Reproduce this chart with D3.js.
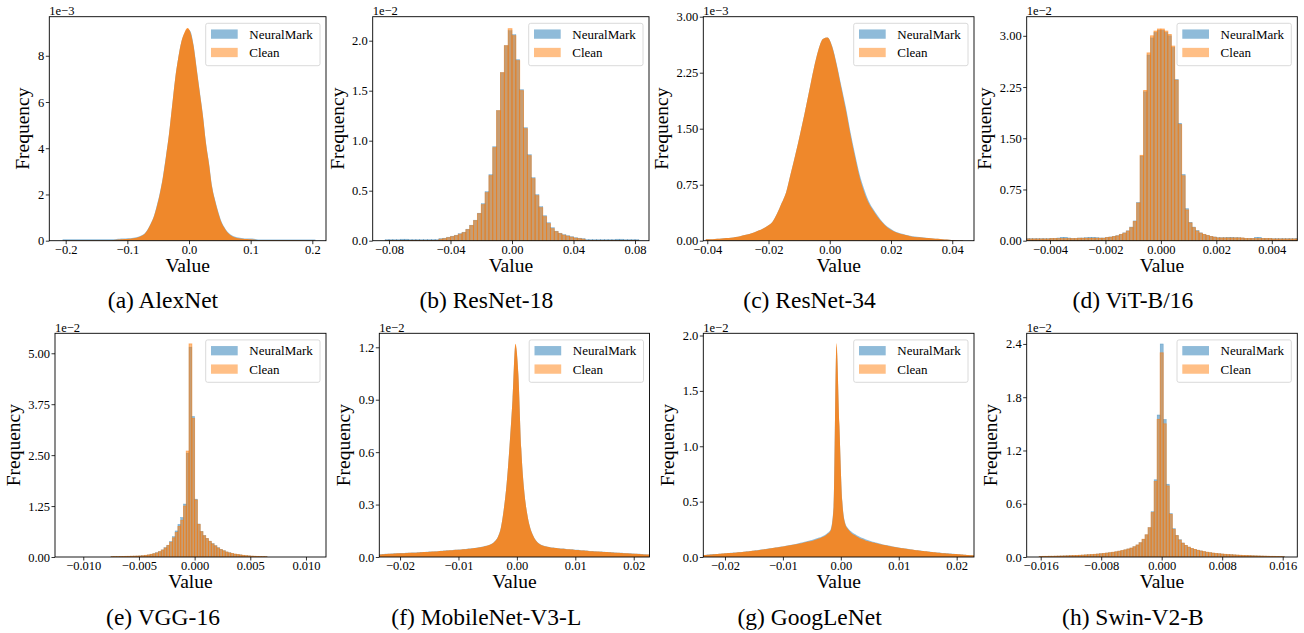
<!DOCTYPE html>
<html lang="en">
<head>
<meta charset="UTF-8">
<title>Weight distributions: NeuralMark vs Clean</title>
<script src="https://d3js.org/d3.v7.min.js"></script>
<style>
  body { margin: 0; background: #fff; }
  text { font-family: "Liberation Serif", "Times New Roman", serif; fill: #000; }
</style>
</head>
<body>
<div id="chart"></div>
<script>
// ---- data ----
const panelNames = ['(a) AlexNet', '(b) ResNet-18', '(c) ResNet-34', '(d) ViT-B/16',
                    '(e) VGG-16', '(f) MobileNet-V3-L', '(g) GoogLeNet', '(h) Swin-V2-B']
const seriesNames = ['NeuralMark', 'Clean']
const xDomains = [[-0.2266, 0.2222], [-0.0906, 0.0891], [-0.0413, 0.0471], [-0.00484, 0.00492],
                  [-0.01254, 0.0118], [-0.02355, 0.0227], [-0.02374, 0.02299], [-0.01785, 0.01793]]
const yMax = [9.69, 2.24, 3.0, 3.28, 5.49, 1.28, 2.02, 2.52]
const yExponent = ['1e\u22123', '1e\u22122', '1e\u22123', '1e\u22122', '1e\u22122', '1e\u22122', '1e\u22122', '1e\u22122']
const xTicks = [[-0.2, -0.1, 0, 0.1, 0.2], [-0.08, -0.04, 0, 0.04, 0.08], [-0.04, -0.02, 0, 0.02, 0.04],
                [-0.004, -0.002, 0, 0.002, 0.004], [-0.01, -0.005, 0, 0.005, 0.01], [-0.02, -0.01, 0, 0.01, 0.02],
                [-0.02, -0.01, 0, 0.01, 0.02], [-0.016, -0.008, 0, 0.008, 0.016]]
const xDecimals = [1, 2, 2, 3, 3, 2, 2, 3]
const yTicks = [[0, 2, 4, 6, 8], [0, 0.5, 1, 1.5, 2], [0, 0.75, 1.5, 2.25, 3], [0, 0.75, 1.5, 2.25, 3],
                [0, 1.25, 2.5, 3.75, 5], [0, 0.3, 0.6, 0.9, 1.2], [0, 0.5, 1, 1.5, 2], [0, 0.6, 1.2, 1.8, 2.4]]
const yDecimals = [0, 1, 2, 2, 2, 1, 1, 1]
const binStart = [-0.205, -0.0825, -0.0405, -0.005, -0.0075, -0.024, -0.024, -0.0162]
const binWidth = [0.005, 0.0025, 0.0015, 0.000125, 0.00025, 0.0005, 0.0005, 0.0004]

// frequencies, in units of the panel exponent
const neuralA = [0.06,0.06,0.06,0.06,0.06,0.06,0.06,0.06,0.06,0.06,0.06,0.06,0.06,0.06,0.06,0.06,0.06,
  0.07,0.08,0.09,0.1,0.11,0.12,0.14,0.17,0.22,0.3,0.47,0.72,1.02,1.5,
  2.05,2.75,3.65,4.6,5.8,7.0,7.9,8.6,8.95,9.15,9.05,8.45,7.45,6.45,5.45,4.25,3.35,2.35,1.75,1.25,
  0.84,0.58,0.39,0.27,0.19,0.15,0.13,0.11,0.1,0.1,0.1,0.07,
  0.05,0.05,0.05,0.05,0.05,0.05,0.05,0.05,0.05,0.05,0.05,0.05,0.05,0.05,0.05,0.05,0.05,0.05,0.05]
const cleanA = [0.02,0.02,0.02,0.02,0.02,0.02,0.02,0.02,0.02,0.02,0.02,0.02,0.02,0.02,0.02,0.02,0.03,
  0.04,0.05,0.06,0.07,0.08,0.1,0.12,0.15,0.2,0.28,0.45,0.7,1.0,1.45,
  2.0,2.7,3.6,4.6,5.8,7.0,7.9,8.6,9.0,9.2,9.0,8.4,7.4,6.4,5.4,4.2,3.3,2.3,1.7,1.2,
  0.8,0.55,0.36,0.24,0.16,0.12,0.1,0.08,0.07,0.06,0.05,0.04,
  0.03,0.03,0.03,0.03,0.03,0.03,0.03,0.03,0.025,0.025,0.025,0.025,0.025,0.025,0.02,0.02,0.02,0.02,0.02]

const neuralB = [0.01,0.01,0.01,0.01,0.015,0.015,0.01,0.01,0.01,0.01,0.01,0.01,0.01,0.01,
  0.02,0.025,0.035,0.045,0.055,0.07,0.085,0.115,0.155,0.205,0.275,0.37,0.49,0.66,0.94,1.3,1.68,1.95,2.1,
  2.06,1.81,1.51,1.13,0.86,0.63,0.46,0.34,0.25,0.18,0.13,0.095,0.075,0.06,0.05,0.04,0.03,0.025,0.02,
  0.01,0.01,0.01,0.01,0.01,0.01,0.01,0.01,0.015,0.015,0.01,0.01,0.01,0.01]
const cleanB = [0.003,0.003,0.003,0.003,0.003,0.003,0.003,0.003,0.003,0.003,0.003,0.003,0.003,0.003,
  0.015,0.02,0.03,0.04,0.05,0.065,0.08,0.11,0.15,0.2,0.27,0.36,0.48,0.65,0.93,1.3,1.68,1.95,2.12,
  2.05,1.8,1.5,1.12,0.85,0.62,0.45,0.33,0.24,0.17,0.12,0.09,0.07,0.055,0.045,0.035,0.025,0.02,0.015,
  0.003,0.003,0.003,0.003,0.003,0.003,0.003,0.003,0.003,0.003,0.003,0.003,0.003,0.003]

const neuralC = [0.02,0.02,0.025,0.03,0.035,0.04,0.05,0.06,0.075,0.09,
  0.11,0.135,0.165,0.2,0.25,0.36,0.5,0.65,0.9,1.15,
  1.42,1.7,2.0,2.3,2.55,2.7,2.72,2.61,2.37,2.08,
  1.79,1.46,1.16,0.89,0.69,0.53,0.42,0.33,0.25,0.19,
  0.15,0.115,0.095,0.08,0.065,0.055,0.048,0.042,0.036,0.031,
  0.026,0.021,0.016,0.011,0.009,0.006]
const cleanC = [0.02,0.02,0.025,0.03,0.035,0.04,0.05,0.06,0.075,0.09,
  0.11,0.135,0.165,0.2,0.25,0.36,0.5,0.65,0.9,1.15,
  1.42,1.7,2.0,2.3,2.55,2.7,2.72,2.6,2.35,2.05,
  1.75,1.42,1.12,0.85,0.65,0.5,0.4,0.31,0.24,0.18,
  0.14,0.11,0.09,0.075,0.06,0.05,0.045,0.04,0.035,0.03,
  0.025,0.02,0.015,0.01,0.008,0.005]

const neuralD = [0.03,0.03,0.03,0.03,0.03,0.03,0.03,0.03,
  0.035,0.035,0.04,0.05,0.05,0.04,0.035,0.035,
  0.04,0.04,0.045,0.05,0.05,0.045,0.04,0.04,
  0.05,0.055,0.065,0.075,0.095,0.115,0.145,0.2,0.29,0.56,1.24,2.18,2.72,2.97,3.05,3.08,
  3.08,3.05,3.0,2.83,2.36,1.72,0.97,0.47,0.27,0.2,0.15,0.115,0.095,0.08,0.065,0.055,
  0.045,0.045,0.045,0.05,0.05,0.045,0.045,0.04,
  0.035,0.035,0.035,0.05,0.05,0.035,0.035,0.035,
  0.03,0.03,0.03,0.03,0.03,0.03,0.03,0.03]
const cleanD = [0.025,0.025,0.025,0.025,0.025,0.025,0.025,0.025,
  0.03,0.03,0.03,0.03,0.03,0.03,0.03,0.03,
  0.035,0.035,0.035,0.035,0.035,0.035,0.035,0.035,
  0.045,0.05,0.06,0.07,0.09,0.11,0.14,0.19,0.28,0.55,1.25,2.2,2.75,3.0,3.07,3.1,
  3.1,3.07,3.02,2.85,2.35,1.7,0.95,0.45,0.26,0.19,0.14,0.11,0.09,0.075,0.06,0.05,
  0.04,0.04,0.04,0.04,0.04,0.04,0.04,0.04,
  0.03,0.03,0.03,0.03,0.03,0.03,0.03,0.03,
  0.025,0.025,0.025,0.025,0.025,0.025,0.025,0.025]

const neuralE = [0.012,0.012,0.012,0.014,0.015,0.017,0.018,0.02,0.022,0.024,
  0.027,0.032,0.042,0.052,0.068,0.083,0.105,0.135,0.175,0.23,
  0.29,0.38,0.5,0.64,0.8,0.97,1.3,2.55,5.15,3.45,
  1.42,0.81,0.63,0.53,0.46,0.39,0.33,0.28,0.23,0.19,
  0.155,0.125,0.105,0.088,0.072,0.062,0.052,0.042,0.034,0.028,
  0.022,0.019,0.016,0.013,0.011,0.009]
const cleanE = [0.01,0.01,0.01,0.012,0.013,0.015,0.016,0.018,0.02,0.022,
  0.025,0.03,0.04,0.05,0.065,0.08,0.1,0.13,0.17,0.22,
  0.28,0.36,0.47,0.6,0.75,0.9,1.25,2.6,5.23,3.4,
  1.4,0.8,0.62,0.52,0.45,0.38,0.32,0.27,0.22,0.18,
  0.15,0.12,0.1,0.085,0.07,0.06,0.05,0.04,0.032,0.026,
  0.02,0.017,0.014,0.012,0.01,0.008]

const neuralF = [0.015,0.016,0.017,0.018,0.019,0.02,0.021,0.022,0.023,0.023,
  0.024,0.025,0.026,0.026,0.027,0.028,0.029,0.03,0.031,0.032,
  0.033,0.035,0.036,0.037,0.038,0.039,0.041,0.042,0.043,0.045,
  0.046,0.048,0.05,0.052,0.054,0.057,0.06,0.064,0.069,0.077,
  0.091,0.116,0.167,0.272,0.42,0.64,0.9,1.21,1.04,0.62,
  0.38,0.25,0.171,0.126,0.096,0.078,0.068,0.063,0.059,0.056,
  0.054,0.052,0.05,0.048,0.047,0.045,0.044,0.043,0.041,0.04,
  0.038,0.037,0.036,0.034,0.033,0.032,0.031,0.03,0.029,0.028,
  0.027,0.026,0.025,0.024,0.023,0.022,0.021,0.02,0.019,0.018,
  0.017,0.016,0.015,0.014,0.013]
const cleanF = [0.014,0.015,0.016,0.017,0.018,0.019,0.02,0.021,0.022,0.022,
  0.023,0.024,0.025,0.025,0.026,0.027,0.028,0.029,0.03,0.031,
  0.032,0.034,0.035,0.036,0.037,0.038,0.04,0.041,0.042,0.044,
  0.045,0.047,0.049,0.051,0.053,0.056,0.059,0.063,0.068,0.076,
  0.09,0.115,0.165,0.27,0.42,0.64,0.9,1.22,1.05,0.62,
  0.38,0.25,0.17,0.125,0.095,0.077,0.067,0.062,0.058,0.055,
  0.053,0.051,0.049,0.047,0.046,0.044,0.043,0.042,0.04,0.039,
  0.037,0.036,0.035,0.033,0.032,0.031,0.03,0.029,0.028,0.027,
  0.026,0.025,0.024,0.023,0.022,0.021,0.02,0.019,0.018,0.017,
  0.016,0.015,0.014,0.013,0.012]

const neuralG = [0.018,0.02,0.022,0.024,0.026,0.028,0.03,0.032,0.034,0.036,
  0.038,0.04,0.043,0.045,0.048,0.051,0.054,0.057,0.06,0.063,
  0.067,0.071,0.074,0.078,0.082,0.086,0.09,0.094,0.098,0.103,
  0.108,0.113,0.118,0.124,0.13,0.137,0.144,0.151,0.158,0.166,
  0.175,0.186,0.198,0.218,0.25,0.46,1.9,1.18,0.51,0.31,
  0.26,0.232,0.212,0.197,0.182,0.171,0.16,0.151,0.143,0.135,
  0.128,0.121,0.114,0.108,0.103,0.098,0.093,0.088,0.084,0.08,
  0.076,0.072,0.068,0.064,0.061,0.058,0.055,0.052,0.049,0.046,
  0.043,0.04,0.038,0.035,0.033,0.031,0.029,0.027,0.025,0.023,
  0.021,0.019,0.017,0.016,0.015]
const cleanG = [0.017,0.019,0.021,0.023,0.025,0.027,0.029,0.031,0.033,0.035,
  0.037,0.039,0.042,0.044,0.047,0.05,0.053,0.056,0.059,0.062,
  0.066,0.07,0.073,0.077,0.081,0.085,0.089,0.093,0.097,0.101,
  0.106,0.11,0.115,0.12,0.125,0.131,0.137,0.143,0.15,0.158,
  0.167,0.178,0.19,0.21,0.24,0.45,1.93,1.2,0.5,0.3,
  0.25,0.22,0.2,0.185,0.17,0.16,0.15,0.142,0.135,0.128,
  0.122,0.116,0.11,0.105,0.1,0.095,0.09,0.086,0.082,0.078,
  0.074,0.07,0.067,0.063,0.06,0.057,0.054,0.051,0.048,0.045,
  0.042,0.039,0.037,0.034,0.032,0.03,0.028,0.026,0.024,0.022,
  0.02,0.018,0.016,0.015,0.014]

const neuralH = [0.007,0.008,0.008,0.009,0.009,0.01,0.011,0.012,0.013,0.014,
  0.016,0.017,0.018,0.02,0.022,0.024,0.026,0.028,0.031,0.034,
  0.037,0.041,0.045,0.049,0.054,0.059,0.066,0.073,0.081,0.091,
  0.101,0.116,0.136,0.162,0.2,0.25,0.33,0.51,0.87,1.6,
  2.4,
  1.55,0.82,0.49,0.32,0.245,0.195,0.158,0.132,0.112,0.097,
  0.087,0.077,0.069,0.062,0.055,0.05,0.045,0.041,0.037,0.034,
  0.031,0.028,0.026,0.024,0.022,0.02,0.018,0.017,0.016,0.014,
  0.013,0.012,0.011,0.01,0.009,0.008,0.008,0.007,0.007,0.006]
const cleanH = [0.006,0.007,0.007,0.008,0.008,0.009,0.01,0.011,0.012,0.013,
  0.015,0.016,0.017,0.019,0.021,0.023,0.025,0.027,0.03,0.033,
  0.036,0.04,0.044,0.048,0.053,0.058,0.065,0.072,0.08,0.09,
  0.1,0.115,0.135,0.16,0.2,0.25,0.33,0.5,0.85,1.55,
  2.3,
  1.5,0.8,0.48,0.31,0.24,0.19,0.155,0.13,0.11,0.095,
  0.085,0.075,0.067,0.06,0.053,0.048,0.043,0.039,0.036,0.033,
  0.03,0.027,0.025,0.023,0.021,0.019,0.017,0.016,0.015,0.013,
  0.012,0.011,0.01,0.009,0.008,0.007,0.007,0.006,0.006,0.005]

const neuralValues = [neuralA, neuralB, neuralC, neuralD, neuralE, neuralF, neuralG, neuralH]
const cleanValues = [cleanA, cleanB, cleanC, cleanD, cleanE, cleanF, cleanG, cleanH]

// ---- layout ----
const W = 1304, H = 633
// axes boxes: [left, right, top, bottom]
const boxes = [
  [49.3, 326, 16.7, 240.7], [372.7, 649, 16.7, 240.7], [703.3, 974, 16.7, 240.7], [1026.7, 1297.3, 16.7, 240.7],
  [55, 326, 333.3, 557], [379.3, 649.5, 333.3, 557], [703.3, 974, 333.3, 557], [1026.7, 1297.3, 333.3, 557]
]
// in these panels the original's very fine bins merge into one smooth orange shape
const dense = [true, false, true, false, false, true, true, false]
const blue = '#1f77b4', orange = '#ff7f0e'

const svg = d3.select('#chart').append('svg')
  .attr('width', W).attr('height', H)
  .style('background', '#fff')

panelNames.forEach((name, i) => {
  const [x0, x1, y0, y1] = boxes[i]
  const x = d3.scaleLinear().domain(xDomains[i]).range([x0, x1])
  const y = d3.scaleLinear().domain([0, yMax[i]]).range([y1, y0])
  const g = svg.append('g')

  const clipId = 'clip' + i
  svg.append('clipPath').attr('id', clipId)
    .append('rect').attr('x', x0).attr('y', y0).attr('width', x1 - x0).attr('height', y1 - y0)

  const bars = g.append('g').attr('clip-path', `url(#${clipId})`)
  const edge = k => binStart[i] + k * binWidth[i]
  const series = [
    { values: neuralValues[i], color: blue, op: 0.5, sw: 0.5, sop: 0.5 },
    { values: cleanValues[i], color: orange, op: dense[i] ? 0.86 : 0.5, sw: 0.9, sop: 0.55 }
  ]
  series.forEach(s => {
    if (dense[i]) {
      // outline through bin centres, padded out to the outer bin edges
      const n = s.values.length
      const pts = [[edge(0), s.values[0]]]
        .concat(s.values.map((v, k) => [edge(k + 0.5), v]))
        .concat([[edge(n), s.values[n - 1]]])
      const area = d3.area()
        .x(d => x(d[0]))
        .y0(y1)
        .y1(d => y(d[1]))
        .curve(d3.curveMonotoneX)
      bars.append('path').datum(pts)
        .attr('d', area)
        .attr('fill', s.color)
        .attr('fill-opacity', s.op)
    } else {
      bars.append('g').selectAll('rect')
        .data(s.values)
        .enter()
        .append('rect')
        .attr('x', (d, k) => x(edge(k)))
        .attr('width', (d, k) => x(edge(k + 1)) - x(edge(k)))
        .attr('y', d => y(d))
        .attr('height', d => y1 - y(d))
        .attr('fill', s.color)
        .attr('fill-opacity', s.op)
        .attr('stroke', s.color)
        .attr('stroke-width', s.sw)
        .attr('stroke-opacity', s.sop)
    }
  })

  // axes
  const fmtX = d3.format('.' + xDecimals[i] + 'f')
  const fmtY = d3.format('.' + yDecimals[i] + 'f')
  const xAxis = g.append('g').attr('transform', `translate(0,${y1})`)
    .call(d3.axisBottom(x).tickValues(xTicks[i]).tickFormat(fmtX).tickSize(3.5).tickSizeOuter(0).tickPadding(1))
  const yAxis = g.append('g').attr('transform', `translate(${x0},0)`)
    .call(d3.axisLeft(y).tickValues(yTicks[i]).tickFormat(fmtY).tickSize(3.5).tickSizeOuter(0).tickPadding(1.5))
  ;[xAxis, yAxis].forEach(a => {
    a.attr('font-family', null).attr('font-size', null)
    a.select('.domain').remove()
    a.selectAll('line').attr('stroke', '#000').attr('stroke-width', 0.8)
    a.selectAll('text').style('font-family', '"Liberation Serif", serif').style('font-size', '12.5px').attr('fill', '#000')
  })

  g.append('rect')
    .attr('x', x0).attr('y', y0).attr('width', x1 - x0).attr('height', y1 - y0)
    .attr('fill', 'none').attr('stroke', '#000').attr('stroke-width', 0.9)

  // offset text
  g.append('text').attr('x', x0).attr('y', y0 - 1.8)
    .style('font-size', '12.5px').text(yExponent[i])

  // axis titles
  let maxW = 0
  yAxis.selectAll('text').each(function () { maxW = Math.max(maxW, this.getBBox().width) })
  const lx = x0 - 5 - maxW - 8.5
  g.append('text')
    .attr('transform', `translate(${lx},${(y0 + y1) / 2}) rotate(-90)`)
    .attr('text-anchor', 'middle')
    .style('font-size', '19.5px')
    .text('Frequency')
  g.append('text')
    .attr('x', (x0 + x1) / 2).attr('y', y1 + 31)
    .attr('text-anchor', 'middle')
    .style('font-size', '19.5px')
    .text('Value')

  // legend
  const lg = g.append('g').attr('transform', `translate(${x1 - 120.3},${y0 + 6.6})`)
  lg.append('rect').attr('width', 114.3).attr('height', 42.4).attr('rx', 2)
    .attr('fill', '#fff').attr('fill-opacity', 0.8).attr('stroke', '#d0d0d0').attr('stroke-width', 0.8)
  seriesNames.forEach((sn, k) => {
    const cy = 10.8 + k * 18.4
    lg.append('rect').attr('x', 5.3).attr('y', cy - 4.65).attr('width', 26.7).attr('height', 9.3)
      .attr('fill', k === 0 ? blue : orange).attr('fill-opacity', 0.5)
    lg.append('text').attr('x', 43.6).attr('y', cy).attr('dy', '0.35em')
      .style('font-size', '13px').text(sn)
  })

  // caption
  const col = i % 4
  g.append('text')
    .attr('x', 163 + 323.3 * col).attr('y', y1 + 67.5)
    .attr('text-anchor', 'middle')
    .style('font-size', '23.5px')
    .text(name)
})
</script>
</body>
</html>
